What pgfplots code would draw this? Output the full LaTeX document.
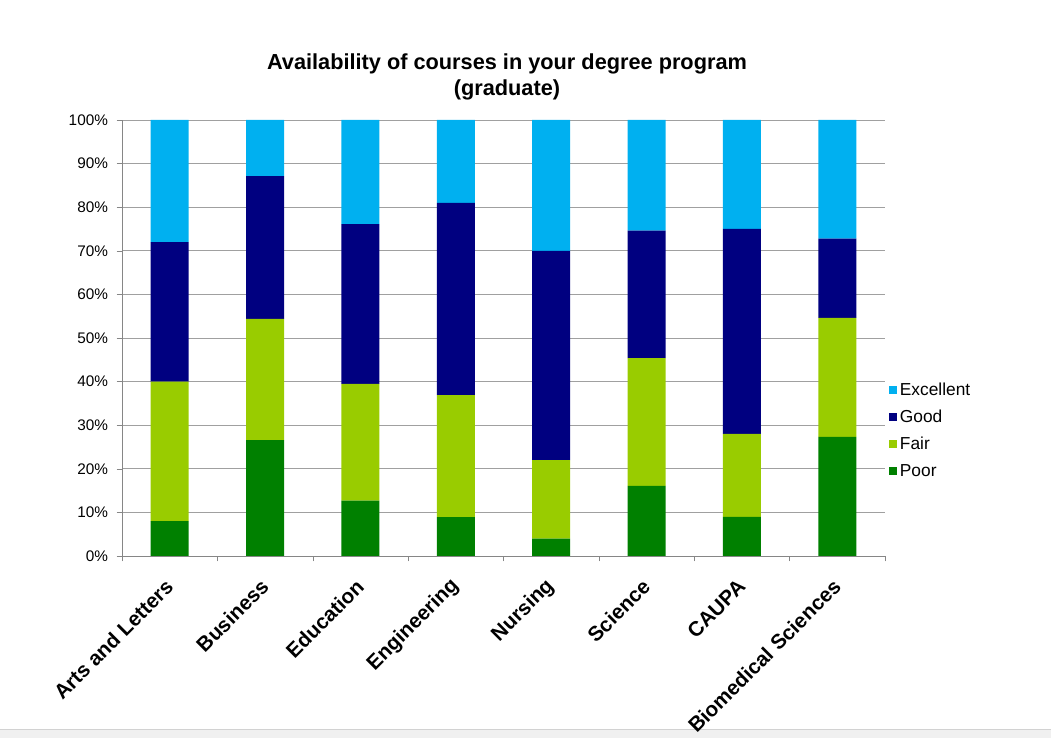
\documentclass[border=0pt]{standalone}
\usepackage{pgfplots}
\pgfplotsset{compat=1.18}
\usepackage{pgfplotstable}
\usepackage{fontspec}
\setmainfont{Liberation Sans}
\definecolor{cExc}{RGB}{0,176,240}
\definecolor{cGood}{RGB}{0,0,128}
\definecolor{cFair}{RGB}{153,204,0}
\definecolor{cPoor}{RGB}{0,128,0}
\definecolor{gridc}{RGB}{160,160,160}
\definecolor{axc}{RGB}{134,134,134}
\pgfplotstableread{
x Poor Fair Good Excellent
0 8.0 32.0 32.0 28.0
1 26.6 27.8 32.7 12.9
2 12.7 26.8 36.6 23.9
3 8.9 28.0 44.1 19.0
4 4.0 18.0 48.0 30.0
5 16.1 29.3 29.2 25.4
6 9.0 19.0 47.0 25.0
7 27.3 27.3 18.2 27.2
}\datatable
\begin{document}
\begin{tikzpicture}
\path[use as bounding box] (-91.5pt,-136.5pt) rectangle (696.75pt,417pt);
\fill[gray!12] (-91.5pt,-136.5pt) rectangle (696.75pt,-129.75pt);
\draw[gray!35] (-91.5pt,-129.75pt) -- (696.75pt,-129.75pt);
\begin{axis}[
  at={(0pt,0pt)}, anchor=south west,
  scale only axis,
  width=572.25pt, height=327pt,
  ybar stacked,
  bar width=28.5pt,
  xmin=-0.5, xmax=7.5,
  ymin=0, ymax=100,
  axis x line*=bottom, axis y line*=left,
  axis line style={axc},
  xtick={0,...,7},
  xticklabels={Arts and Letters,Business,Education,Engineering,Nursing,Science,CAUPA,Biomedical Sciences},
  major x tick style={draw=none},
  minor xtick={-0.5,0.5,...,7.5},
  minor x tick style={axc},
  minor tick length=4pt,
  ytick={0,10,...,100},
  y tick style={axc},
  major tick length=4pt,
  tick align=outside,
  ymajorgrids,
  grid style={gridc, line width=0.6pt},
  yticklabel={\pgfmathprintnumber{\tick}\%},
  yticklabel style={font=\fontsize{11.5}{13}\selectfont, xshift=-3pt},
  xticklabel style={xshift=2.25pt, rotate=45, anchor=east, font=\fontsize{15.5}{17}\selectfont\bfseries},
  xticklabel shift=14pt,
  /pgf/number format/assume math mode=true,
  reverse legend,
  legend style={draw=none, fill=none, at={(1.0,0.288)}, anchor=west,
    font=\fontsize{13}{14}\selectfont, row sep=5.5pt,
    /tikz/every odd column/.append style={column sep=0pt}},
  legend cell align=left,
  legend image code/.code={\fill[#1] (0pt,-3pt) rectangle (6pt,3pt);},
  clip=false,
]
\addplot[fill=cPoor, draw=none] table[x=x, y=Poor] {\datatable};
\addplot[fill=cFair, draw=none] table[x=x, y=Fair] {\datatable};
\addplot[fill=cGood, draw=none] table[x=x, y=Good] {\datatable};
\addplot[fill=cExc, draw=none] table[x=x, y=Excellent] {\datatable};
\legend{Poor,Fair,Good,Excellent}
\end{axis}
\node[align=center, font=\fontsize{16.3}{19.5}\selectfont\bfseries] at (288.75pt,359.25pt) {Availability of courses in your degree program\\(graduate)};
\end{tikzpicture}
\end{document}
